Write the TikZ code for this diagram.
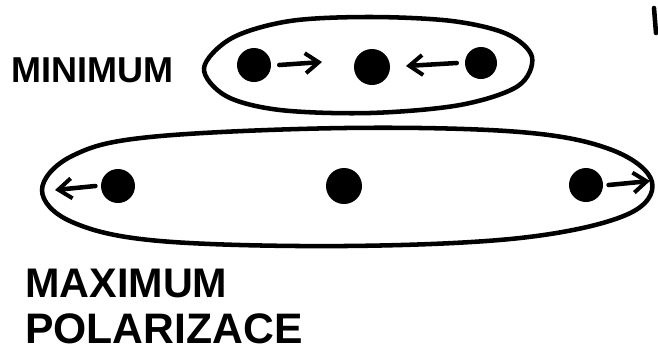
\documentclass[tikz,border=0pt]{standalone}
\usepackage{fontspec}
\setmainfont{Liberation Sans}
\usetikzlibrary{arrows.meta}
\tikzset{
  dot/.style={circle, fill=black, inner sep=0pt, minimum size=#1*0.75pt},
  stroke/.style={line width=3.4pt, line cap=round, line join=round},
  push/.style={stroke, -{Straight Barb[length=10pt, width=15pt, line width=3pt]}},
  label/.style={font=\bfseries, anchor=west, inner sep=0pt}
}
\begin{document}
\begin{tikzpicture}[x=0.75pt, y=-0.75pt]
\useasboundingbox (0,0) rectangle (658,355);
% small group
\draw[stroke] plot[smooth cycle, tension=0.55] coordinates {
  (204,68) (232,38) (290,21) (370,17) (452,21) (507,34) (532,57)
  (518,86) (460,105) (370,113) (280,110) (226,96)};
\node[dot=34] (a1) at (254,65) {};
\node[dot=36] (a2) at (372,67) {};
\node[dot=32] (a3) at (481,63) {};
\coordinate (a12) at (322,62);
\coordinate (a32) at (406,66);
\draw[push] (a1.east) ++(6pt,0) -- (a12);
\draw[push] (a3.west) ++(-6pt,0) -- (a32);
% big group
\draw[stroke] plot[smooth cycle, tension=0.6] coordinates {
  (42,190) (72,156) (150,137) (345,128) (520,132) (612,150) (652,182)
  (626,215) (520,238) (345,246) (160,241) (72,222)};
\node[dot=34] (b1) at (118,186) {};
\node[dot=36] (b2) at (344,186) {};
\node[dot=34] (b3) at (586,185) {};
\coordinate (bl) at (55,190);
\coordinate (br) at (650,181);
\draw[push] (b1.west) ++(-4pt,0) -- (bl);
\draw[push] (b3.east) ++(4pt,0) -- (br);
% labels
\node[label, font=\bfseries\fontsize{27}{27}\selectfont] (min) at (11,70) {MINIMUM};
\node[label, font=\bfseries\fontsize{31}{31}\selectfont] (max) at (25,283) {MAXIMUM};
\node[label, font=\bfseries\fontsize{32}{32}\selectfont] (pol) at (25,329) {POLARIZACE};
% mark at top right
\draw[stroke] (654,8) -- (656,33);
\end{tikzpicture}
\end{document}
